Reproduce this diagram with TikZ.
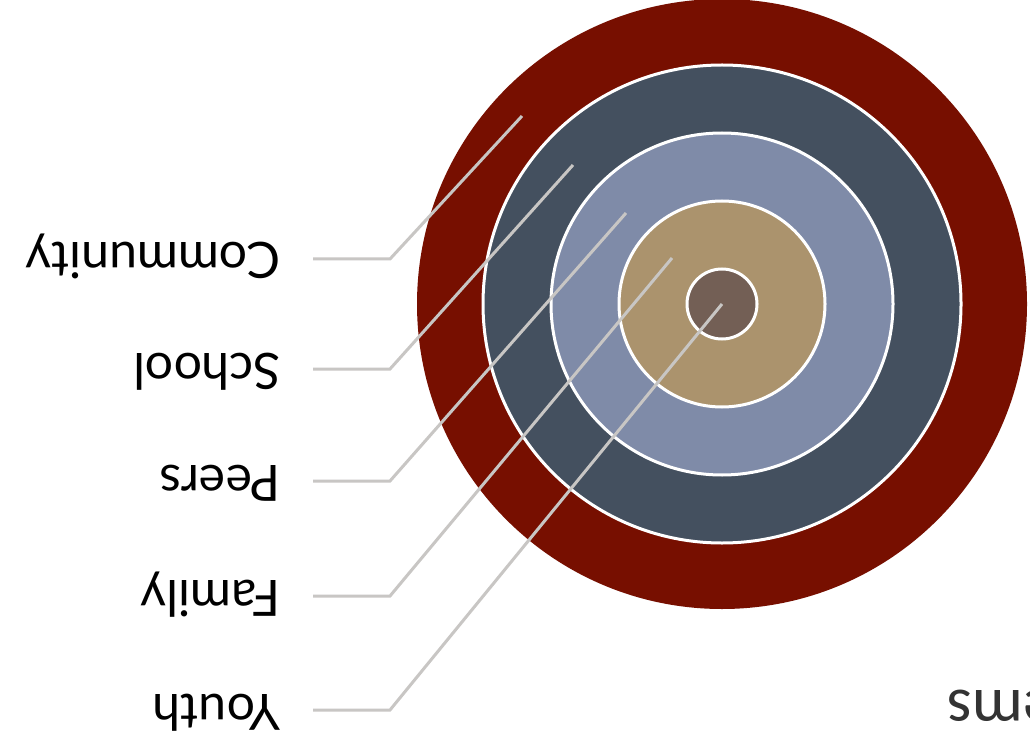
\documentclass[tikz,border=0pt]{standalone}
\usepackage{fontspec}
\setmainfont{Lato}
\newfontfamily\sysfont{Carlito}
\definecolor{ringred}{HTML}{770F00}
\definecolor{ringslate}{HTML}{44505F}
\definecolor{ringblue}{HTML}{7F8BA8}
\definecolor{ringtan}{HTML}{AB936D}
\definecolor{ringbrown}{HTML}{735F55}
\definecolor{leader}{HTML}{C8C6C4}
\definecolor{systext}{HTML}{333333}
\tikzset{
  ring/.style={draw=white,line width=3pt},
  lbl/.style={rotate=180,anchor=base west,inner sep=0pt,font=\fontsize{50}{60}\selectfont,text=black},
  leaderline/.style={draw=leader,line width=3pt},
}
\begin{document}
\begin{tikzpicture}[x=1pt,y=-1pt]
\clip (0,0) rectangle (1030,743);
\fill[white] (0,0) rectangle (1030,743);
\coordinate (c) at (722,304);
\fill[ringred] (c) circle[radius=305pt];
\filldraw[ring,fill=ringslate] (c) circle[radius=239pt];
\filldraw[ring,fill=ringblue] (c) circle[radius=171pt];
\filldraw[ring,fill=ringtan] (c) circle[radius=103pt];
\filldraw[ring,fill=ringbrown] (c) circle[radius=35pt];
% leader end points
\coordinate (pC) at (522,116);
\coordinate (pS) at (573,165);
\coordinate (pP) at (626,213);
\coordinate (pF) at (672,258);
\coordinate (pY) at (722,304);
\coordinate (kC) at (390,259); \coordinate (sC) at (313,259);
\coordinate (kS) at (390,369); \coordinate (sS) at (313,369);
\coordinate (kP) at (390,481); \coordinate (sP) at (313,481);
\coordinate (kF) at (390,596); \coordinate (sF) at (313,596);
\coordinate (kY) at (390,710); \coordinate (sY) at (313,710);
\draw[leaderline] (sC) -- (kC) -- (pC);
\draw[leaderline] (sS) -- (kS) -- (pS);
\draw[leaderline] (sP) -- (kP) -- (pP);
\draw[leaderline] (sF) -- (kF) -- (pF);
\draw[leaderline] (sY) -- (kY) -- (pY);
\node[lbl] (lC) at (281,243) {Community};
\node[lbl] (lS) at (281,353) {School};
\node[lbl] (lP) at (281,465) {Peers};
\node[lbl] (lF) at (281,580) {Family};
\node[lbl] (lY) at (281,694) {Youth};
\node[rotate=180,anchor=base east,inner sep=0pt,font=\sysfont\fontsize{64}{70}\selectfont,text=systext] (sys) at (947,690) {Systems};
\end{tikzpicture}
\end{document}
